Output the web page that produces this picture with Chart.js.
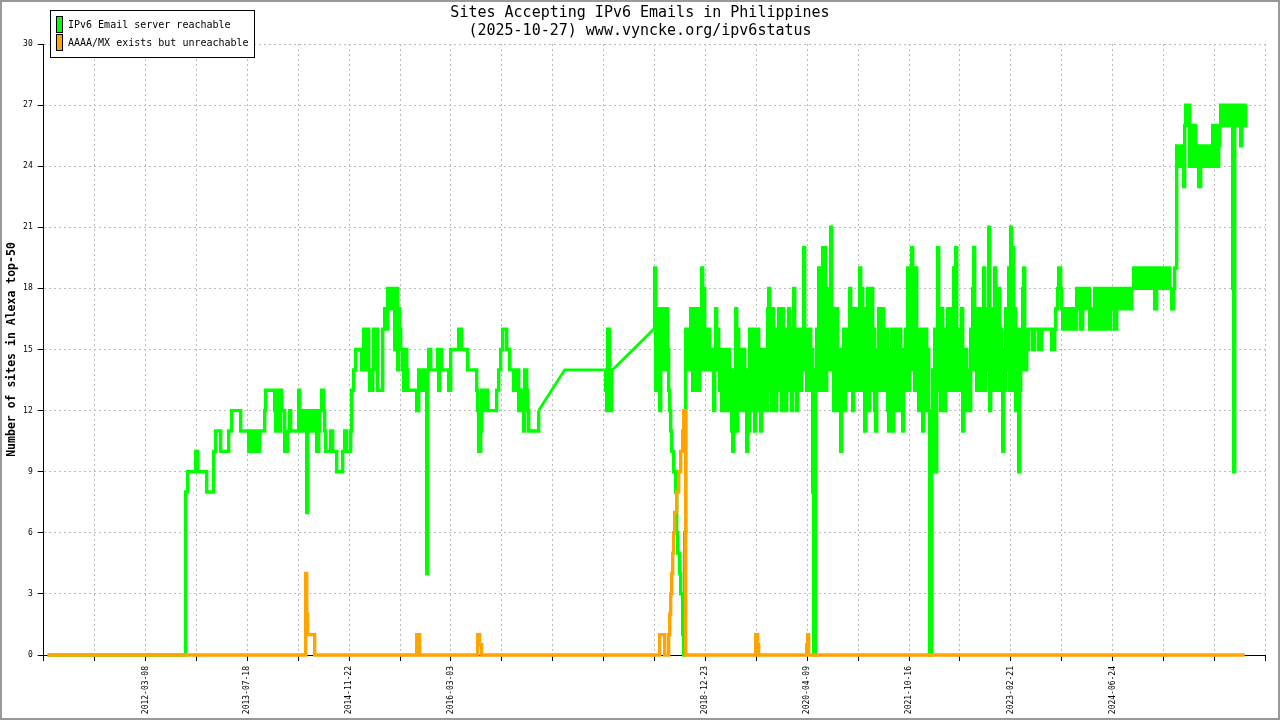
<!DOCTYPE html>
<html>
<head>
<meta charset="utf-8">
<title>Sites Accepting IPv6 Emails in Philippines</title>
<script src="https://cdn.jsdelivr.net/npm/chart.js@4/dist/chart.umd.min.js"></script>
<style>
  html, body { margin: 0; padding: 0; background: #fff; }
  #wrap { width: 1280px; height: 720px; }
</style>
</head>
<body>
<div id="wrap"><canvas id="ipv6Chart" width="1280" height="720"></canvas></div>
<script>
"use strict";

// x values are days from the start of the axis; one axis tick every 254.5 days
const TICK_DAYS = 254.5;
const xTickLabels = [
  "", "", "2012-03-08", "", "2013-07-18", "", "2014-11-22", "", "2016-03-03",
  "", "", "", "", "2018-12-23", "", "2020-04-09", "", "2021-10-16", "",
  "2023-02-21", "", "2024-06-24", "", "", ""
];

const seriesLabels = ["IPv6 Email server reachable", "AAAA/MX exists but unreachable"];
const seriesColors = ["#00ff00", "#ffa500"];

// [day, sites reachable] - value changes
const reachEarly = [
  [20,0],[710,8],[720,9],[760,10],[770,9],[815,8],[850,10],[860,11],[885,10],[925,11],[940,12],[985,11],
  [1025,10],[1035,11],[1045,10],[1060,11],[1070,10],[1080,11],[1105,12],[1110,13],[1155,12],[1160,11],
  [1170,13],[1175,11],[1185,13],[1190,12],[1205,10],[1220,11],[1230,12],[1235,11],[1275,13],[1280,12],
  [1290,11],[1295,12],[1305,11],[1315,7],[1320,12],[1330,11],[1335,12],[1345,11],[1355,12],[1365,10],
  [1375,11],[1380,12],[1390,13],[1400,12],[1405,11],[1410,10],[1435,11],[1445,10],[1465,9],[1495,10],
  [1505,11],[1515,10],[1535,11],[1540,13],[1550,14],[1560,15],[1590,14],[1595,15],[1600,16],[1610,14],
  [1615,16],[1625,14],[1630,13],[1645,14],[1650,16],[1660,14],[1665,16],[1670,13],[1695,16],[1705,17],
  [1715,16],[1720,18],[1735,17],[1740,18],[1755,15],[1760,17],[1765,18],[1770,14],[1775,17],[1780,16],
  [1785,15],[1795,14],[1800,13],[1805,15],[1815,14],[1820,13],[1865,12],[1875,14],[1885,13],[1895,14],
  [1905,13],[1910,14],[1915,4],[1920,14],[1925,15],[1935,14],[1970,15],[1975,13],[1980,15],[1990,14],
  [2025,13],[2035,15],[2075,16],[2090,15],[2120,14],[2165,13],[2170,12],[2175,10],[2185,11],[2190,13],
  [2205,12],[2210,13],[2220,12],[2265,13],[2275,14],[2285,15],[2295,16],[2315,15],[2330,14],[2350,13],
  [2360,14],[2375,12],[2385,13],[2390,12],[2400,11],[2405,14],[2415,13],[2420,12],[2425,11],[2475,12]
];

const reachMid = [
  [2805,14],[2810,13],[2815,12],[2820,16],[2830,14],[2835,12],[2840,14],[2845,14]
];

// straight links across the periods without measurements
const reachLinkA = [[2475,12],[2605,14],[2805,14]];
const reachLinkB = [[2845,14],[3050,16]];

const reachLate = [
  [3050,16],[3055,19],[3060,13],[3065,17],[3070,14],[3075,17],[3080,12],[3085,16],[3090,14],[3095,17],
  [3100,15],[3105,17],[3110,14],[3115,17],[3120,15],[3125,13],[3130,12],[3135,11],[3140,10],[3150,9],
  [3160,8],[3165,6],[3170,5],[3180,4],[3185,3],[3195,1],[3200,0],[3205,6],[3210,16],
  [3220,14],[3225,16],[3230,14],[3235,17],[3245,13],[3250,16],[3255,13],[3260,17],[3265,14],[3270,17],
  [3275,13],[3280,15],[3285,14],[3290,19],[3295,15],[3300,18],[3305,14],[3310,16],[3315,14],[3320,16],
  [3330,14],[3335,15],[3345,14],[3350,12],[3355,15],[3360,17],[3365,14],[3370,16],[3375,15],[3380,13],
  [3385,15],[3390,12],[3395,14],[3400,13],[3405,15],[3410,12],[3415,14],[3420,13],[3425,15],[3430,12],
  [3435,14],[3440,11],[3445,10],[3450,14],[3455,12],[3460,17],[3465,11],[3470,16],[3475,13],[3480,15],
  [3485,12],[3490,14],[3495,13],[3500,15],[3505,12],[3510,14],[3515,10],[3520,14],[3525,11],[3530,16],
  [3535,12],[3540,15],[3545,13],[3550,16],[3555,11],[3560,15],[3565,12],[3570,16],[3575,13],[3580,15],
  [3585,11],[3590,14],[3595,12],[3600,15],[3605,13],[3610,14],[3615,12],[3620,17],[3625,18],[3630,13],
  [3635,16],[3640,12],[3645,17],[3650,14],[3655,16],[3660,12],[3665,15],[3670,13],[3675,17],[3680,14],
  [3685,16],[3690,12],[3695,17],[3700,13],[3705,15],[3710,12],[3715,16],[3720,13],[3725,17],[3730,14],
  [3735,16],[3740,12],[3745,15],[3750,18],[3755,13],[3760,16],[3765,12],[3770,15],[3775,14],[3780,16],
  [3785,13],[3790,15],[3795,14],[3800,20],[3805,14],[3810,16],[3815,13],[3820,15],[3825,14],[3830,16],
  [3835,13],[3840,15],[3845,8],[3850,0],[3860,14],[3865,16],[3870,13],[3875,19],[3880,14],[3885,17],
  [3890,13],[3895,20],[3900,15],[3905,20],[3910,13],[3915,17],[3920,14],[3925,18],[3930,15],[3935,21],
  [3940,14],[3945,17],[3950,12],[3955,16],[3960,13],[3965,17],[3970,12],[3975,15],[3980,14],[3985,10],
  [3990,15],[3995,13],[4000,16],[4005,12],[4010,15],[4015,13],[4020,16],[4025,14],[4030,18],[4035,13],
  [4040,16],[4045,12],[4050,17],[4055,14],[4060,16],[4065,13],[4070,17],[4075,14],[4080,19],[4085,13],
  [4090,18],[4095,14],[4100,17],[4105,11],[4110,16],[4115,13],[4120,18],[4125,12],[4130,17],[4135,14],
  [4140,18],[4145,13],[4150,16],[4155,12],[4160,11],[4165,15],[4170,13],[4175,17],[4180,14],[4185,16],
  [4190,13],[4195,17],[4200,14],[4205,15],[4210,13],[4215,16],[4220,12],[4225,11],[4230,15],[4235,12],
  [4240,16],[4245,11],[4250,14],[4255,13],[4260,16],[4265,12],[4270,15],[4275,14],[4280,16],[4285,12],
  [4290,15],[4295,11],[4300,14],[4305,13],[4310,16],[4315,14],[4320,19],[4325,13],[4330,17],[4335,14],
  [4340,20],[4345,15],[4350,17],[4355,13],[4360,19],[4365,14],[4370,16],[4375,12],[4380,15],[4385,13],
  [4390,16],[4395,11],[4400,15],[4405,12],[4410,16],[4415,13],[4420,15],[4425,12],[4430,0],[4440,9],
  [4445,14],[4450,12],[4455,16],[4460,9],[4465,15],[4470,20],[4475,13],[4480,16],[4485,12],[4490,17],
  [4495,14],[4500,16],[4505,12],[4510,15],[4515,13],[4520,17],[4525,14],[4530,16],[4535,13],[4540,17],
  [4545,14],[4550,19],[4555,13],[4560,20],[4565,14],[4570,16],[4575,13],[4580,15],[4585,14],[4590,17],
  [4595,11],[4600,15],[4605,12],[4610,15],[4615,12],[4620,14],[4625,13],[4630,12],[4635,16],[4640,14],
  [4645,18],[4650,20],[4655,14],[4660,17],[4665,13],[4670,16],[4675,14],[4680,17],[4685,13],[4690,15],
  [4695,14],[4700,19],[4705,13],[4710,17],[4715,14],[4720,16],[4725,21],[4730,12],[4735,16],[4740,13],
  [4745,17],[4750,14],[4755,19],[4760,13],[4765,16],[4770,14],[4775,18],[4780,13],[4785,16],[4790,14],
  [4795,10],[4800,15],[4805,13],[4810,17],[4815,14],[4820,16],[4825,19],[4830,13],[4835,21],[4840,14],
  [4845,20],[4850,13],[4855,17],[4860,12],[4865,16],[4870,12],[4875,9],[4880,13],[4885,16],[4890,14],
  [4895,18],[4900,19],[4905,15],[4910,14],[4915,16],[4920,15],[4925,16],[4945,15],[4955,16],[4975,15],
  [4990,16],[5040,15],[5055,16],[5060,17],[5070,18],[5075,19],[5085,18],[5090,17],[5095,16],[5105,17],
  [5110,16],[5120,17],[5125,16],[5135,17],[5140,16],[5150,17],[5155,16],[5165,18],[5170,17],[5180,18],
  [5185,16],[5195,18],[5200,17],[5210,18],[5215,17],[5225,18],[5230,16],[5240,17],[5245,16],[5255,18],
  [5260,16],[5270,18],[5275,17],[5285,16],[5290,18],[5295,16],[5305,18],[5310,16],[5320,18],[5325,16],
  [5335,18],[5340,17],[5350,18],[5355,16],[5365,18],[5370,17],[5380,18],[5385,17],[5395,18],[5400,17],
  [5410,18],[5415,17],[5425,18],[5430,17],[5440,18],[5450,19],[5460,18],[5465,19],[5475,18],[5480,19],
  [5490,18],[5495,19],[5505,18],[5510,19],[5520,18],[5525,19],[5535,18],[5540,19],[5550,18],[5555,17],
  [5565,19],[5570,18],[5580,19],[5585,18],[5595,19],[5600,18],[5610,19],[5615,18],[5625,19],[5630,18],
  [5640,17],[5650,18],[5655,19],[5665,25],[5670,24],[5680,25],[5685,24],[5690,25],[5695,24],[5700,23],
  [5705,26],[5710,27],[5720,26],[5725,27],[5730,24],[5735,26],[5740,24],[5745,26],[5750,24],[5755,26],
  [5760,25],[5765,24],[5770,25],[5775,23],[5785,25],[5790,24],[5795,25],[5800,24],[5805,25],[5810,24],
  [5815,25],[5820,24],[5825,25],[5830,24],[5840,25],[5845,26],[5850,24],[5855,26],[5860,25],[5865,26],
  [5870,24],[5875,25],[5880,26],[5885,27],[5890,26],[5895,27],[5900,26],[5905,27],[5910,26],[5915,27],
  [5920,26],[5925,27],[5930,26],[5935,27],[5945,18],[5950,9],[5955,27],[5960,26],[5965,27],[5970,26],
  [5975,27],[5980,26],[5985,25],[5990,27],[5995,26],[6000,27],[6005,26],[6010,27],[6015,27]
];

// [day, sites with AAAA/MX but unreachable]
const unreachSteps = [
  [20,0],[1310,4],[1315,2],[1320,1],[1355,0],[1865,1],[1880,0],[2170,1],[2180,0.5],[2190,0],
  [3080,1],[3105,0],[3125,1],[3130,2],[3135,3],[3140,4],[3145,5],[3150,6],[3155,7],[3165,8],
  [3175,9],[3185,10],[3195,11],[3200,12],[3210,0],[3560,1],[3570,0.5],[3575,0],[3815,0.5],
  [3820,1],[3825,0],[6005,0]
];

const MONO = '"DejaVu Sans Mono", "Liberation Mono", monospace';
const toXY = arr => arr.map(p => ({ x: p[0], y: p[1] }));
const GAP = { x: null, y: null };

const frameAndLegend = {
  id: "frameAndLegend",
  beforeDraw(chart) {
    const ctx = chart.ctx;
    ctx.save();
    ctx.fillStyle = "#fff";
    ctx.fillRect(0, 0, chart.width, chart.height);
    ctx.restore();
  },
  afterDraw(chart) {
    const ctx = chart.ctx;
    ctx.save();
    // outer frame
    ctx.strokeStyle = "#999";
    ctx.lineWidth = 2;
    ctx.strokeRect(1, 1, chart.width - 2, chart.height - 2);
    // legend box
    ctx.fillStyle = "#fff";
    ctx.fillRect(50, 10, 204, 47);
    ctx.strokeStyle = "#000";
    ctx.lineWidth = 1;
    ctx.strokeRect(50.5, 10.5, 204, 47);
    const rows = [16, 34];
    ctx.font = "10px " + MONO;
    ctx.textBaseline = "middle";
    ctx.textAlign = "left";
    seriesLabels.forEach((lab, i) => {
      ctx.fillStyle = seriesColors[i];
      ctx.fillRect(56, rows[i], 6, 16);
      ctx.strokeStyle = "#000";
      ctx.strokeRect(56.5, rows[i] + 0.5, 6, 16);
      ctx.fillStyle = "#000";
      ctx.fillText(lab, 68, rows[i] + 9);
    });
    ctx.restore();
  }
};

const lineBase = { pointRadius: 0, borderWidth: 3.4, fill: false, spanGaps: false, clip: 4 };

new Chart(document.getElementById("ipv6Chart"), {
  type: "line",
  data: {
    datasets: [
      Object.assign({}, lineBase, {
        label: seriesLabels[1], data: toXY(unreachSteps), borderColor: seriesColors[1],
        stepped: true, order: 0
      }),
      Object.assign({}, lineBase, {
        label: seriesLabels[0],
        data: toXY(reachEarly).concat([GAP], toXY(reachMid), [GAP], toXY(reachLate)),
        borderColor: seriesColors[0], stepped: true, order: 1
      }),
      Object.assign({}, lineBase, {
        label: seriesLabels[0] + " (link)",
        data: toXY(reachLinkA).concat([GAP], toXY(reachLinkB)),
        borderColor: seriesColors[0], borderWidth: 2.8, order: 1
      })
    ]
  },
  options: {
    responsive: false,
    animation: false,
    devicePixelRatio: 1,
    layout: { padding: 0 },
    plugins: {
      legend: { display: false },
      tooltip: { enabled: false },
      title: {
        display: true,
        text: ["Sites Accepting IPv6 Emails in Philippines", "(2025-10-27) www.vyncke.org/ipv6status"],
        color: "#000",
        font: { family: MONO, size: 15, weight: "normal", lineHeight: 1.2 },
        padding: { top: 4, bottom: 4 }
      }
    },
    scales: {
      x: {
        type: "linear",
        min: 0,
        max: TICK_DAYS * (xTickLabels.length - 1),
        afterBuildTicks: axis => {
          axis.ticks = xTickLabels.map((_, k) => ({ value: k * TICK_DAYS }));
        },
        afterFit: axis => { axis.height = 65; },
        ticks: {
          autoSkip: false,
          minRotation: 90,
          maxRotation: 90,
          padding: 5,
          color: "#000",
          font: { family: MONO, size: 8 },
          callback: (v, i) => xTickLabels[i]
        },
        grid: { color: "#bbb", lineWidth: 1, tickColor: "#000", tickLength: 6, tickWidth: 1 },
        border: { color: "#000", width: 1, dash: [2, 3] }
      },
      y: {
        min: 0,
        max: 30,
        afterFit: axis => { axis.width = 43.7; },
        ticks: {
          stepSize: 3,
          padding: 5,
          color: "#000",
          font: { family: MONO, size: 8 }
        },
        title: {
          display: true,
          text: "Number of sites in Alexa top-50",
          color: "#000",
          font: { family: MONO, size: 11.5, weight: "bold", lineHeight: 1.2 },
          padding: { top: 5, bottom: 0 }
        },
        grid: { color: "#bbb", lineWidth: 1, tickColor: "#000", tickLength: 6, tickWidth: 1 },
        border: { color: "#000", width: 1, dash: [2, 3] }
      },
      // empty right margin so the title stays centred on the whole image
      yRight: {
        position: "right",
        min: 0,
        max: 30,
        afterFit: axis => { axis.width = 14.7; },
        ticks: { display: false },
        grid: { display: false, drawTicks: false },
        border: { display: false }
      }
    }
  },
  plugins: [frameAndLegend]
});
</script>
</body>
</html>
